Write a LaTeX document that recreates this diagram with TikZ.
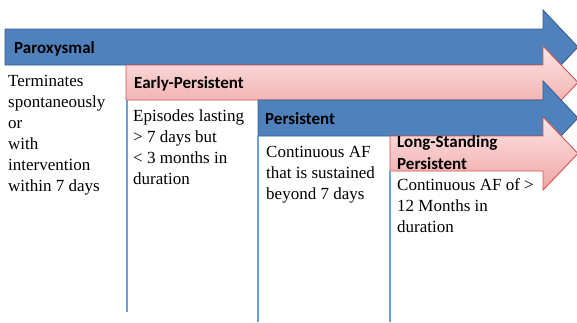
\documentclass[tikz,border=0pt]{standalone}
\usepackage{fontspec}
\setmainfont{Liberation Serif}
\newfontfamily\hdrfont{Carlito}
\definecolor{afblue}{HTML}{4F81BD}
\definecolor{afblueline}{HTML}{3A5F8B}
\definecolor{afpinktop}{HTML}{FDE6E6}
\definecolor{afpinkbot}{HTML}{F0A4A4}
\definecolor{afpinkline}{HTML}{D9534F}
\definecolor{afcolline}{HTML}{6A9FDB}
\tikzset{
  bluearrow/.style={fill=afblue, draw=afblueline, line width=0.9pt, line join=miter},
  pinkarrow/.style={top color=afpinktop, bottom color=afpinkbot, draw=afpinkline, line width=0.9pt, line join=miter},
  hdr/.style={anchor=base west, inner sep=0pt, align=left, font=\hdrfont\bfseries\fontsize{17}{22}\selectfont, text=black},
  desc/.style={anchor=base west, inner sep=0pt, align=left, font=\fontsize{17}{21}\selectfont, text=black},
  colline/.style={draw=afcolline, line width=1.2pt},
}
\begin{document}
\begin{tikzpicture}[x=1pt,y=-1pt]
\useasboundingbox[fill=white] (0,0) rectangle (577,322);
% arrows
\path[bluearrow] (5,29) -- (543,29) -- (543,10) -- (578,47) -- (543,84) -- (543,65) -- (5,65) -- cycle;
\path[pinkarrow] (126,65) -- (543,65) -- (543,46) -- (578,82.5) -- (543,119) -- (543,100) -- (126,100) -- cycle;
\path[bluearrow] (258,100) -- (543,100) -- (543,81) -- (578,118) -- (543,155) -- (543,136) -- (258,136) -- cycle;
\path[pinkarrow] (390,136) -- (543,136) -- (543,117) -- (578,153.5) -- (543,190) -- (543,171) -- (390,171) -- cycle;
% column lines
\coordinate (c2t) at (127,100); \coordinate (c2b) at (127,312);
\coordinate (c3t) at (258,136); \coordinate (c3b) at (258,322);
\coordinate (c4t) at (390,171); \coordinate (c4b) at (390,322);
\draw[colline] (c2t) -- (c2b);
\draw[colline] (c3t) -- (c3b);
\draw[colline] (c4t) -- (c4b);
% headers (base anchor = baseline of last line)
\node[hdr] (h1) at (14,53.5) {Paroxysmal};
\node[hdr] (h2) at (134,88.5) {Early-Persistent};
\node[hdr] (h3) at (265,124) {Persistent};
\node[hdr] (h4) at (397,169) {Long-Standing\\Persistent};
% descriptions
\node[desc] (d1) at (8,191) {Terminates\\spontaneously\\or\\with\\intervention\\within 7 days};
\node[desc] (d2) at (133,184) {Episodes lasting\\> 7 days but\\< 3 months in\\duration};
\node[desc] (d3) at (266,199) {Continuous AF\\that is sustained\\beyond 7 days};
\node[desc] (d4) at (397,232) {Continuous AF of >\\12 Months in\\duration};
\end{tikzpicture}
\end{document}
